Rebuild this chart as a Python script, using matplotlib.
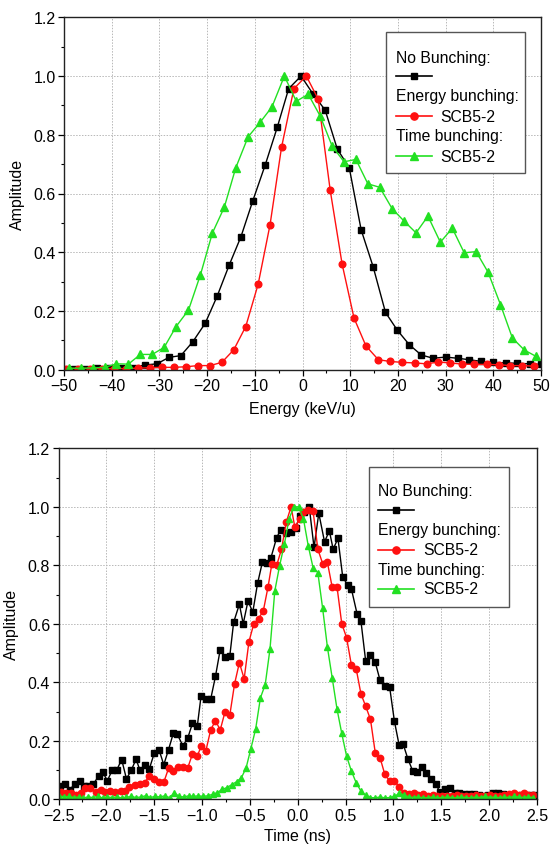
import numpy as np
import matplotlib
matplotlib.use("Agg")
import matplotlib.pyplot as plt
from matplotlib.lines import Line2D
from matplotlib.patches import Rectangle
from matplotlib.transforms import Affine2D
from matplotlib.ticker import MultipleLocator

plt.rcParams['font.family'] = ['Liberation Sans', 'DejaVu Sans']

# ---------------- Top panel: energy spectra ----------------
E_black = [-48.0, -45.5, -43.0, -40.5, -38.0, -35.6, -33.1, -30.5, -28.0, -25.5,
           -23.0, -20.4, -17.9, -15.4, -12.9, -10.4, -7.8, -5.3, -2.9, -0.3,
           2.2, 4.75, 7.3, 9.8, 12.3, 14.8, 17.4, 19.9, 22.4, 24.9,
           27.4, 30.0, 32.5, 35.0, 37.5, 40.0, 42.6, 45.0, 47.6, 50.0]
A_black = [0.004, 0.004, 0.005, 0.005, 0.006, 0.007, 0.016, 0.02, 0.042, 0.048,
           0.095, 0.158, 0.25, 0.355, 0.453, 0.576, 0.698, 0.825, 0.957, 1.0,
           0.939, 0.884, 0.751, 0.688, 0.476, 0.351, 0.195, 0.134, 0.085, 0.05,
           0.039, 0.043, 0.039, 0.034, 0.028, 0.025, 0.023, 0.022, 0.02, 0.018]

E_red = [-49.6, -47.1, -44.6, -42.0, -39.5, -37.0, -34.5, -32.0, -29.5, -27.0,
         -24.4, -21.9, -19.4, -16.9, -14.4, -11.9, -9.3, -6.8, -4.4, -1.8,
         0.8, 3.3, 5.8, 8.3, 10.8, 13.3, 15.9, 18.4, 20.9, 23.5,
         26.0, 28.5, 31.0, 33.5, 36.0, 38.6, 41.1, 43.6, 46.1, 48.6]
A_red = [0.004, 0.004, 0.004, 0.004, 0.004, 0.004, 0.005, 0.007, 0.008, 0.008,
         0.01, 0.014, 0.014, 0.025, 0.068, 0.147, 0.291, 0.494, 0.757, 0.957,
         1.0, 0.921, 0.612, 0.36, 0.176, 0.081, 0.034, 0.028, 0.025, 0.023,
         0.02, 0.026, 0.023, 0.019, 0.018, 0.018, 0.017, 0.014, 0.014, 0.012]

E_green = [-49.0, -46.5, -44.0, -41.5, -39.0, -36.5, -34.0, -31.5, -29.0, -26.5,
           -23.9, -21.4, -18.9, -16.4, -14.0, -11.4, -8.9, -6.4, -3.8, -1.3,
           1.2, 3.7, 6.2, 8.7, 11.2, 13.7, 16.2, 18.8, 21.3, 23.8,
           26.3, 28.9, 31.4, 33.9, 36.4, 38.9, 41.5, 44.0, 46.5, 49.0]
A_green = [0.005, 0.005, 0.006, 0.008, 0.02, 0.019, 0.052, 0.052, 0.076, 0.147,
           0.203, 0.323, 0.465, 0.553, 0.687, 0.793, 0.842, 0.895, 1.0, 0.914,
           0.938, 0.864, 0.762, 0.708, 0.716, 0.633, 0.621, 0.548, 0.506, 0.466,
           0.523, 0.434, 0.482, 0.398, 0.402, 0.332, 0.222, 0.108, 0.067, 0.045]

# ---------------- Bottom panel: time spectra ----------------
T_black = [-2.48, -2.43, -2.38, -2.33, -2.28, -2.23, -2.19, -2.14, -2.08, -2.04,
           -1.99, -1.94, -1.89, -1.84, -1.79, -1.74, -1.69, -1.65, -1.60, -1.55,
           -1.50, -1.45, -1.40, -1.35, -1.30, -1.26, -1.20, -1.15, -1.10, -1.05,
           -1.01, -0.96, -0.91, -0.86, -0.81, -0.76, -0.71, -0.67, -0.61, -0.57,
           -0.52, -0.47, -0.42, -0.37, -0.32, -0.28, -0.22, -0.18, -0.12, -0.07,
           -0.02, 0.02, 0.07, 0.12, 0.17, 0.22, 0.28, 0.33, 0.37, 0.42,
           0.47, 0.52, 0.56, 0.62, 0.66, 0.71, 0.76, 0.81, 0.86, 0.91,
           0.96, 1.01, 1.06, 1.10, 1.15, 1.20, 1.25, 1.30, 1.34, 1.39,
           1.44, 1.49, 1.54, 1.59, 1.64, 1.69, 1.74, 1.79, 1.84, 1.89,
           1.94, 1.99, 2.04, 2.09, 2.14, 2.19, 2.24, 2.29, 2.34, 2.39,
           2.44, 2.48]
B_black = [0.044, 0.051, 0.032, 0.054, 0.061, 0.045, 0.047, 0.051, 0.079, 0.095,
           0.063, 0.099, 0.101, 0.136, 0.07, 0.099, 0.137, 0.101, 0.116, 0.105,
           0.157, 0.17, 0.118, 0.17, 0.226, 0.223, 0.183, 0.209, 0.26, 0.249,
           0.354, 0.342, 0.342, 0.42, 0.512, 0.485, 0.49, 0.605, 0.667, 0.60,
           0.678, 0.64, 0.738, 0.81, 0.809, 0.826, 0.895, 0.92, 0.91, 0.914,
           0.929, 0.969, 0.983, 1.0, 0.861, 0.978, 0.88, 0.918, 0.855, 0.892,
           0.76, 0.733, 0.72, 0.634, 0.61, 0.472, 0.494, 0.468, 0.407, 0.389,
           0.384, 0.267, 0.184, 0.19, 0.139, 0.098, 0.092, 0.109, 0.09, 0.069,
           0.052, 0.024, 0.035, 0.039, 0.02, 0.02, 0.018, 0.018, 0.017, 0.015,
           0.012, 0.015, 0.02, 0.02, 0.018, 0.012, 0.012, 0.012, 0.015, 0.012,
           0.015, 0.015]

T_red = [-2.47, -2.42, -2.37, -2.32, -2.27, -2.22, -2.17, -2.11, -2.06, -2.01,
         -1.96, -1.91, -1.85, -1.80, -1.76, -1.70, -1.65, -1.60, -1.55, -1.50,
         -1.45, -1.40, -1.35, -1.30, -1.25, -1.20, -1.15, -1.10, -1.05, -1.01,
         -0.96, -0.91, -0.86, -0.81, -0.76, -0.71, -0.66, -0.61, -0.56, -0.51,
         -0.46, -0.41, -0.36, -0.31, -0.27, -0.22, -0.17, -0.12, -0.07, -0.03,
         0.02, 0.06, 0.11, 0.16, 0.21, 0.26, 0.31, 0.36, 0.41, 0.46,
         0.51, 0.56, 0.61, 0.66, 0.71, 0.76, 0.81, 0.86, 0.91, 0.96,
         1.01, 1.06, 1.11, 1.16, 1.21, 1.26, 1.31, 1.36, 1.41, 1.46,
         1.51, 1.56, 1.61, 1.66, 1.71, 1.76, 1.81, 1.86, 1.91, 1.96,
         2.01, 2.06, 2.11, 2.16, 2.21, 2.26, 2.31, 2.36, 2.41, 2.46]
B_red = [0.026, 0.02, 0.02, 0.015, 0.02, 0.038, 0.038, 0.026, 0.031, 0.024,
         0.03, 0.026, 0.03, 0.027, 0.043, 0.048, 0.051, 0.057, 0.08, 0.07,
         0.058, 0.058, 0.106, 0.098, 0.109, 0.11, 0.107, 0.155, 0.147, 0.181,
         0.166, 0.237, 0.269, 0.237, 0.299, 0.288, 0.395, 0.467, 0.412, 0.539,
         0.599, 0.618, 0.644, 0.727, 0.806, 0.80, 0.855, 0.947, 1.0, 0.93,
         0.958, 0.981, 0.989, 0.986, 0.855, 0.806, 0.81, 0.725, 0.727, 0.60,
         0.553, 0.46, 0.447, 0.361, 0.318, 0.273, 0.159, 0.142, 0.085, 0.063,
         0.063, 0.043, 0.02, 0.018, 0.02, 0.015, 0.018, 0.012, 0.015, 0.012,
         0.01, 0.012, 0.012, 0.015, 0.012, 0.01, 0.012, 0.015, 0.01, 0.012,
         0.015, 0.012, 0.01, 0.015, 0.018, 0.02, 0.015, 0.02, 0.015, 0.015]

T_green = [-2.49, -2.44, -2.39, -2.34, -2.29, -2.24, -2.19, -2.14, -2.09, -2.04,
           -1.99, -1.94, -1.89, -1.84, -1.79, -1.74, -1.69, -1.64, -1.59, -1.54,
           -1.49, -1.44, -1.39, -1.34, -1.29, -1.24, -1.19, -1.14, -1.09, -1.04,
           -0.99, -0.94, -0.89, -0.84, -0.79, -0.74, -0.69, -0.64, -0.59, -0.54,
           -0.49, -0.44, -0.39, -0.34, -0.29, -0.24, -0.19, -0.14, -0.09, -0.04,
           0.01, 0.06, 0.11, 0.16, 0.21, 0.26, 0.31, 0.36, 0.41, 0.46,
           0.51, 0.56, 0.61, 0.66, 0.71, 0.76, 0.81, 0.86, 0.91, 0.96,
           1.01, 1.06, 1.11, 1.16, 1.21, 1.26, 1.31, 1.36, 1.41, 1.46,
           1.51, 1.56, 1.61, 1.66, 1.71, 1.76, 1.81, 1.86, 1.91, 1.96,
           2.01, 2.06, 2.11, 2.16, 2.21, 2.26, 2.31, 2.36, 2.41, 2.46]
B_green = [0.012, 0.008, 0.01, 0.006, 0.008, 0.005, 0.008, 0.006, 0.01, 0.005,
           0.008, 0.006, 0.008, 0.005, 0.007, 0.01, 0.006, 0.008, 0.012, 0.006,
           0.01, 0.008, 0.012, 0.006, 0.022, 0.01, 0.008, 0.012, 0.01, 0.012,
           0.01, 0.012, 0.017, 0.023, 0.034, 0.04, 0.05, 0.06, 0.073, 0.107,
           0.173, 0.24, 0.347, 0.392, 0.514, 0.712, 0.798, 0.872, 0.96, 1.0,
           1.0, 0.958, 0.866, 0.792, 0.775, 0.653, 0.52, 0.415, 0.309, 0.225,
           0.148, 0.097, 0.057, 0.028, 0.014, 0.006, 0.005, 0.008, 0.005, 0.006,
           0.01, 0.02, 0.015, 0.008, 0.006, 0.008, 0.005, 0.006, 0.008, 0.005,
           0.006, 0.008, 0.006, 0.005, 0.008, 0.006, 0.005, 0.008, 0.006, 0.01,
           0.006, 0.008, 0.005, 0.008, 0.006, 0.01, 0.008, 0.006, 0.008, 0.006]

legend_headers = ["No Bunching:", "Energy bunching:", "Time bunching:"]
legend_labels = ["", "SCB5-2", "SCB5-2"]

C_BLACK = "#000000"
C_RED = "#ff1010"
C_GREEN = "#22e022"

W, H = 550, 845
fig = plt.figure(figsize=(W / 100, H / 100), dpi=100)
pix = Affine2D().scale(1 / W, -1 / H).translate(0, 1) + fig.transFigure


def ax_px(left, top, right, bottom):
    return fig.add_axes([left / W, 1 - bottom / H, (right - left) / W, (bottom - top) / H])


def style(ax, xlim, xmaj, xmin, xlabel, xpad):
    ax.set_xlim(*xlim)
    ax.set_ylim(0, 1.2)
    ax.xaxis.set_major_locator(MultipleLocator(xmaj))
    ax.xaxis.set_minor_locator(MultipleLocator(xmin))
    ax.yaxis.set_major_locator(MultipleLocator(0.2))
    ax.yaxis.set_minor_locator(MultipleLocator(0.1))
    ax.tick_params(which='major', direction='out', length=4, width=0.9, labelsize=11.5, pad=2)
    ax.tick_params(which='minor', direction='out', length=2.5, width=0.8)
    ax.grid(True, which='major', color='#b8b8b8', linestyle=(0, (1.5, 1.5)), linewidth=0.7)
    ax.set_axisbelow(True)
    for s in ax.spines.values():
        s.set_linewidth(1.0)
        s.set_color('#222222')
    ax.set_xlabel(xlabel, fontsize=11.5, labelpad=xpad)
    ax.set_ylabel("Amplitude", fontsize=11.5, labelpad=6)


def draw_legend(box, ys, x_text, x_lab):
    l, t, r, b = box
    fig.add_artist(Rectangle((l, t), r - l, b - t, transform=pix, facecolor='white',
                             edgecolor='#555555', linewidth=1.0, zorder=10))
    specs = [(C_BLACK, 's', 4.2), (C_RED, 'o', 5.2), (C_GREEN, '^', 5.2)]
    for i, (hdr, lab) in enumerate(zip(legend_headers, legend_labels)):
        fig.text(x_text / W, 1 - ys[2 * i] / H, hdr, fontsize=11.3, va='center', ha='left', zorder=11)
        c, m, ms = specs[i]
        yh = ys[2 * i + 1]
        fig.add_artist(Line2D([x_text, x_text + 36], [yh, yh], transform=pix, color=c, lw=1.2, zorder=11))
        fig.add_artist(Line2D([x_text + 18], [yh], transform=pix, color=c, marker=m,
                              markersize=ms, linestyle='none', zorder=12))
        if lab:
            fig.text(x_lab / W, 1 - yh / H, lab, fontsize=11.3, va='center', ha='left', zorder=11)


# Top panel
ax1 = ax_px(64, 18.3, 541, 370.7)
ax1.plot(E_black, A_black, color=C_BLACK, marker='s', markersize=4.0, lw=1.0)
ax1.plot(E_red, A_red, color=C_RED, marker='o', markersize=4.8, lw=1.0)
ax1.plot(E_green, A_green, color=C_GREEN, marker='^', markersize=5.1, lw=1.0)
style(ax1, (-50, 50), 10, 5, "Energy (keV/u)", 6)
draw_legend((386, 33, 525, 174), [58, 77, 97, 117, 137, 157], 396, 440)

# Bottom panel
ax2 = ax_px(58.5, 449.3, 537, 800.3)
ax2.plot(T_black, B_black, color=C_BLACK, marker='s', markersize=3.8, lw=1.0)
ax2.plot(T_red, B_red, color=C_RED, marker='o', markersize=4.6, lw=1.0)
ax2.plot(T_green, B_green, color=C_GREEN, marker='^', markersize=4.6, lw=1.0)
style(ax2, (-2.5, 2.5), 0.5, 0.25, "Time (ns)", 4)
draw_legend((369, 468, 509, 608), [492, 511, 531, 551, 570, 590], 378, 423)

fig.savefig("out.png", dpi=100)
